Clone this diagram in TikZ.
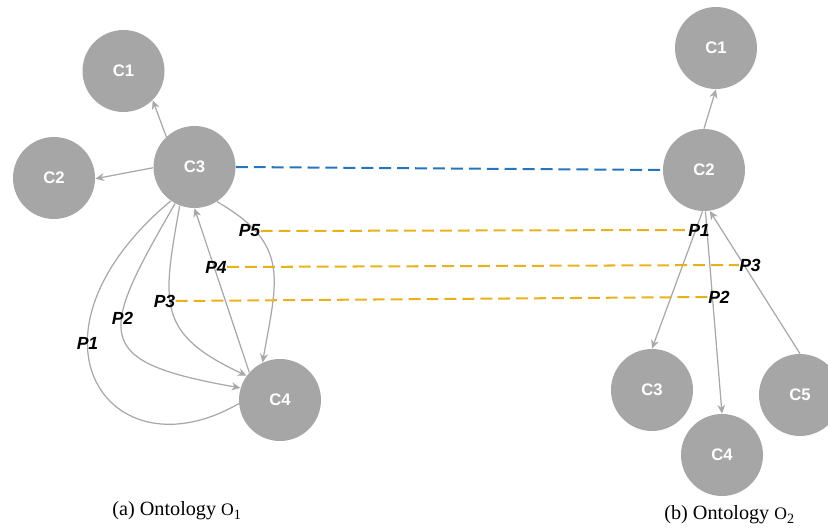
\documentclass[tikz,border=0pt]{standalone}
\usepackage{fontspec}
\setmainfont{Liberation Serif}
\setsansfont{Liberation Sans}
\usepackage{tikz}
\usepackage{xcolor}
\usetikzlibrary{arrows.meta}

\definecolor{conceptgray}{RGB}{166,166,166}
\definecolor{linkgray}{RGB}{168,168,168}
\definecolor{matchblue}{RGB}{40,116,186}
\definecolor{matchgold}{RGB}{232,178,30}

\begin{document}
\begin{tikzpicture}[
  concept/.style={circle, fill=conceptgray, minimum size=1.64cm, inner sep=0pt, text=white, font=\sffamily\bfseries\fontsize{9.5}{11}\selectfont},
  link/.style={draw=linkgray, line width=0.7pt, -{Stealth[length=5pt, width=4.5pt]}},
  plainlink/.style={draw=linkgray, line width=0.7pt},
  prop/.style={inner sep=0pt, font=\sffamily\bfseries\itshape\fontsize{10}{12}\selectfont},
  match/.style={line width=1.15pt, dash pattern=on 6.8pt off 3.4pt},
  caption/.style={anchor=base west, inner sep=0pt, font=\fontsize{11.5}{13}\selectfont}
]

\useasboundingbox (0,0) rectangle (16.56,10.62);
\clip (0,0) rectangle (16.56,10.62);

\node[concept] (oa1) at (2.47,9.20) {C1};
\node[concept] (oa2) at (1.08,7.06) {C2};
\node[concept] (oa3) at (3.89,7.28) {C3};
\node[concept] (oa4) at (5.60,2.62) {C4};

\node[concept] (ob1) at (14.32,9.66) {C1};
\node[concept] (ob2) at (14.08,7.22) {C2};
\node[concept] (ob3) at (13.04,2.82) {C3};
\node[concept] (ob4) at (14.44,1.52) {C4};
\node[concept] (ob5) at (16.00,2.72) {C5};

\draw[link] (oa3.133) -- (oa1.-45);
\draw[link] (oa3.181) -- (oa2.-1);
\draw[link] (oa4.138) -- (oa3.-90);
\draw[link] (oa3.-57) to[out=-30, in=80, looseness=1.3] (oa4.115);
\draw[link] (oa3.-111) to[out=-100, in=155, looseness=1.4] (oa4.144);
\draw[link] (oa3.-118) to[out=-120, in=170, looseness=2] (oa4.163);
\draw[plainlink] (oa3.-125) to[out=-140, in=-150, out distance=4.2cm, in distance=3cm] (oa4.-175);

\draw[link] (ob2.north) -- (ob1.south);
\draw[link] (ob2.-92) -- (ob3.north);
\draw[link] (ob2.-88) -- (ob4.north);
\draw[link] (ob5.north) -- (ob2.-82);

\node[prop] (pa1) at (1.75,3.76) {P1};
\node[prop] (pa2) at (2.45,4.26) {P2};
\node[prop] (pa3) at (3.29,4.60) {P3};
\node[prop] (pa4) at (4.32,5.28) {P4};
\node[prop] (pa5) at (4.99,6.00) {P5};

\node[prop] (pb1) at (13.98,6.02) {P1};
\node[prop] (pb3) at (15.00,5.32) {P3};
\node[prop] (pb2) at (14.38,4.68) {P2};

\draw[match, matchblue] (oa3.east) -- (ob2.west);
\draw[match, matchgold] (pa5.east) -- (pb1.west);
\draw[match, matchgold] (pa4.east) -- (pb3.west);
\draw[match, matchgold] (pa3.east) -- (pb2.west);

\node[caption] (capa) at (2.24,0.30) {(a) Ontology {\fontsize{10}{11}\selectfont O}\textsubscript{1}};
\node[caption] (capb) at (13.28,0.22) {(b) Ontology {\fontsize{10}{11}\selectfont O}\textsubscript{2}};

\end{tikzpicture}
\end{document}
